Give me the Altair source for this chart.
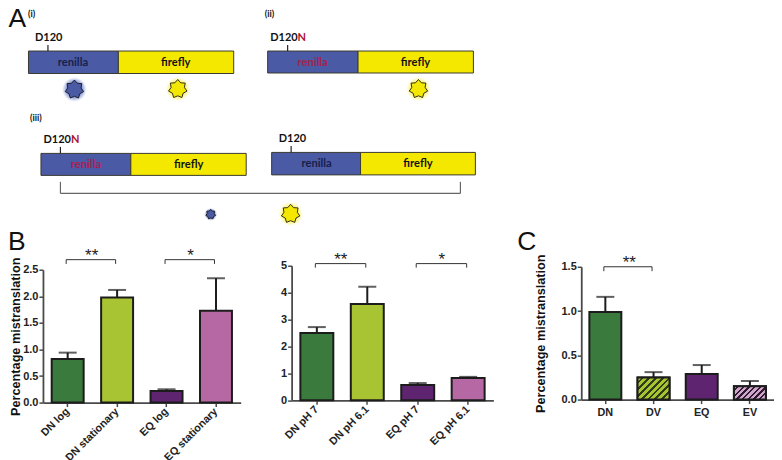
import math
import altair as alt

# ---------- panel A diagram values (diagram units) ----------
seg_x = [28.5, 118.5, 268, 358.5, 41, 131, 272, 361]
seg_x2 = [118.5, 234, 358.5, 474, 131, 246.5, 361, 476]
seg_y = [51, 51, 51, 51, 153.5, 153.5, 152.5, 152.5]
seg_y2 = [73.5, 73.5, 73, 73, 175.5, 175.5, 175, 175]
seg_kind = ["renilla", "firefly"] * 4

gene_x = [73, 176, 313, 416, 86, 189, 317, 418.5]
gene_y = [63, 63, 62.5, 62.5, 165, 165, 164, 164]
gene_t = ["renilla", "firefly"] * 4
gene_c = ["#17204a", "#111111", "#a3234f", "#111111", "#a3234f", "#111111", "#17204a", "#111111"]

mark_x = [48, 288, 60.5, 291.5]
mark_y = [45, 45, 147, 146]
mark_y2 = [51, 51, 153.5, 152.5]

site_x = [62.5, 298, 71, 306.5]
site_y = [38, 38, 140, 139]
site_t = ["D120", "D120", "D120", "D120"]
mut_x = [298, 71]
mut_y = [38, 140]

roman_x = [28, 265, 30]
roman_y = [14, 14, 118]
roman_t = ["(i)", "(ii)", "(iii)"]

blue_x = [74.5, 211]
blue_y = [89.5, 214.5]
blue_s = [19, 10]
yellow_x = [178, 419, 291]
yellow_y = [89, 89, 214]
yellow_s = [19, 19, 19]

# ---------- bar panels ----------
b1_cat = ["DN log", "DN stationary", "EQ log", "EQ stationary"]
b1_val = [0.82, 1.98, 0.22, 1.73]
b1_err = [0.94, 2.12, 0.25, 2.34]
b2_cat = ["DN pH 7", "DN pH 6.1", "EQ pH 7", "EQ pH 6.1"]
b2_val = [2.5, 3.58, 0.57, 0.83]
b2_err = [2.72, 4.22, 0.64, 0.87]
c_cat = ["DN", "DV", "EQ", "EV"]
c_val = [0.99, 0.25, 0.29, 0.15]
c_err = [1.16, 0.31, 0.39, 0.21]

GREEN, LIME, PURPLE, PINK = "#3a7a3c", "#a9c432", "#5f2470", "#b568a3"
DARK = "#1c1c1c"
AXC = "#4a4a4a"
ARIAL = "Liberation Sans"
CAL = "Lato"
PANEL_H = 137


def star_path(n=7, inner=0.72):
    pts = []
    for i in range(2 * n):
        r = 1 if i % 2 == 0 else inner
        a = math.pi * i / n - math.pi / 2
        pts.append(f"{r * math.cos(a):.3f},{r * math.sin(a):.3f}")
    return "M" + "L".join(pts) + "Z"


STAR = star_path()


def glow(rgb):
    return alt.RadialGradient(
        gradient="radial",
        stops=[
            alt.GradientStop(offset=0, color=f"rgba({rgb},0.9)"),
            alt.GradientStop(offset=0.6, color=f"rgba({rgb},0.85)"),
            alt.GradientStop(offset=1, color=f"rgba({rgb},0)"),
        ],
    )


# ---------- panel A ----------
def rows(**cols):
    keys = list(cols)
    return alt.Data(values=[dict(zip(keys, v)) for v in zip(*cols.values())])


X = alt.X("x:Q", axis=None, scale=alt.Scale(domain=[43, 774], nice=False, zero=False))
Y = alt.Y("y:Q", axis=None, scale=alt.Scale(domain=[225, 8], nice=False, zero=False))

segs = alt.Chart(rows(x=seg_x, x2=seg_x2, y=seg_y, y2=seg_y2, k=seg_kind)).mark_rect(
    stroke="#3a3a30", strokeWidth=1
).encode(
    x=X, x2="x2:Q", y=Y, y2="y2:Q",
    fill=alt.Fill("k:N", legend=None, scale=alt.Scale(domain=["renilla", "firefly"], range=["#4b5aa5", "#f5e800"])),
)
genes = alt.Chart(rows(x=gene_x, y=gene_y, t=gene_t, c=gene_c)).mark_text(
    font=CAL, fontWeight="bold", fontSize=11.2
).encode(x=X, y=Y, text="t:N", color=alt.Color("c:N", scale=None))
marks = alt.Chart(rows(x=mark_x, y=mark_y, y2=mark_y2)).mark_rule(color="#222222", strokeWidth=1.2).encode(
    x=X, y=Y, y2="y2:Q"
)
sites = alt.Chart(rows(x=site_x, y=site_y, t=site_t)).mark_text(
    font=CAL, fontWeight="bold", fontSize=11, align="right", color="#111111"
).encode(x=X, y=Y, text="t:N")
muts = alt.Chart(rows(x=mut_x, y=mut_y, t=["N", "N"])).mark_text(
    font=CAL, fontWeight="bold", fontSize=11, align="left", color="#b01030"
).encode(x=X, y=Y, text="t:N")
romans = alt.Chart(rows(x=roman_x, y=roman_y, t=roman_t)).mark_text(
    font=CAL, fontWeight="bold", fontSize=9, align="left", color="#111111"
).encode(x=X, y=Y, text="t:N")
letter_a = alt.Chart(rows(x=[8.5], y=[27], t=["A"])).mark_text(
    font=ARIAL, fontSize=26.5, align="left", baseline="alphabetic", color="#111111"
).encode(x=X, y=Y, text="t:N")
brack_h = alt.Chart(rows(x=[60.5], x2=[461], y=[193.5])).mark_rule(color="#666666", strokeWidth=1.2).encode(
    x=X, x2="x2:Q", y=Y
)
brack_v = alt.Chart(rows(x=[60.5, 461], y=[182, 182], y2=[193.5, 193.5])).mark_rule(
    color="#666666", strokeWidth=1.2
).encode(x=X, y=Y, y2="y2:Q")


def glow_layer(xs, ys, ss, rgb, fill):
    d = rows(x=xs, y=ys, s=ss)
    halo = alt.Chart(d).mark_point(filled=True, shape="circle", fill=glow(rgb), opacity=1, strokeWidth=0).encode(
        x=X, y=Y,
        size=alt.Size("area:Q", scale=None, legend=None),
    ).transform_calculate(area="3.14159*(datum.s*0.72)*(datum.s*0.72)")
    st = alt.Chart(d).mark_point(
        filled=True, shape=STAR, fill=fill, opacity=1, stroke="#1a1a1a", strokeWidth=0.9
    ).encode(x=X, y=Y, size=alt.Size("area:Q", scale=None, legend=None)).transform_calculate(
        area="datum.s*datum.s*1.0"
    )
    return halo + st


panel_a = alt.layer(
    segs, genes, marks, sites, muts, romans, letter_a, brack_h, brack_v,
    glow_layer(blue_x, blue_y, blue_s, "110,130,205", "#4b5aa5"),
    glow_layer(yellow_x, yellow_y, yellow_s, "250,240,90", "#f5e800"),
).properties(width=731, height=217)


# ---------- bar helper ----------
def bar_panel(cats, vals, errs, colors, domain, rng, ticks, fmt, width, bar_w,
              brackets, title=None, labelAngle=0, x_offset=0, letter=None, letter_x=0, hatch=None,
              title_pad=0):
    data = rows(c=cats, v=vals, e=errs)
    x = alt.X(
        "c:N", sort=cats, title=None,
        scale=alt.Scale(domain=cats, paddingInner=0, paddingOuter=0),
        axis=alt.Axis(
            labelAngle=labelAngle, labelFont=ARIAL, labelFontWeight="bold", labelFontSize=10.8,
            labelColor="#222222", domainColor=AXC, domainWidth=1.8, tickColor=AXC, tickWidth=1.5,
            tickSize=4, labelPadding=3, offset=x_offset, labelLimit=200,
            labelAlign="right" if labelAngle else "center",
            labelBaseline="middle" if labelAngle else "top",
        ),
    )
    y_scale = alt.Scale(domain=domain, range=rng, nice=False, zero=True)
    y_axis = alt.Axis(
        values=ticks, format=fmt, grid=False, labelFont=ARIAL, labelFontWeight="bold", labelFontSize=11,
        labelColor="#222222", domainColor=AXC, domainWidth=1.8, tickColor=AXC, tickWidth=1.5, tickSize=4,
        labelPadding=1, titleFont=ARIAL, titleFontWeight="bold", titleFontSize=12.7, titleColor="#111111",
        titlePadding=title_pad, labelOverlap=False,
    )

    def ya(field):
        return alt.Y(field, title=title, scale=y_scale, axis=y_axis)

    bars = alt.Chart(data).mark_bar(size=bar_w, stroke=DARK, strokeWidth=2).encode(
        x=x, y=ya("v:Q"),
        color=alt.Color("c:N", legend=None, scale=alt.Scale(domain=cats, range=colors)),
    )
    stem = alt.Chart(data).mark_rule(color=DARK, strokeWidth=2).encode(
        x=alt.X("c:N", sort=cats), y=ya("v:Q"), y2="e:Q"
    )
    cap = alt.Chart(data).mark_tick(color=DARK, thickness=2, size=18).encode(
        x=alt.X("c:N", sort=cats), y=ya("e:Q")
    )
    layers = [bars, stem, cap]
    if hatch:
        for cat, top, light, dark in hatch:
            h = abs(rng[0] - rng[1]) * vals[cats.index(cat)] / domain[1]
            r = h / bar_w
            k = (1 + r) / (1 + r * r)
            n = 8
            stops = []
            for i in range(n):
                stops += [
                    alt.GradientStop(offset=i / n, color=light),
                    alt.GradientStop(offset=(i + 0.6) / n, color=light),
                    alt.GradientStop(offset=(i + 0.6) / n, color=dark),
                    alt.GradientStop(offset=(i + 1) / n, color=dark),
                ]
            grad = alt.LinearGradient(gradient="linear", stops=stops, x1=0, y1=0, x2=k, y2=k * r)
            layers.append(
                alt.Chart(rows(c=[cat], v=[vals[cats.index(cat)]])).mark_bar(
                    size=bar_w, stroke=DARK, strokeWidth=2, fill=grad
                ).encode(x=alt.X("c:N", sort=cats), y=ya("v:Q"))
            )
    a_c, b_c, top, tip, star_y, star_t = zip(*brackets)
    bh = alt.Chart(rows(a=a_c, b=b_c, v=top)).mark_rule(color="#333333", strokeWidth=1, xOffset=-1.5, x2Offset=-1.5).encode(
        x=alt.X("a:N", sort=cats), x2="b:N", y=ya("v:Q")
    )
    ends = rows(a=list(a_c) + list(b_c), v=list(top) * 2, w=list(tip) * 2)
    bv = alt.Chart(ends).mark_rule(color="#333333", strokeWidth=1, xOffset=-1.5).encode(
        x=alt.X("a:N", sort=cats), y=ya("v:Q"), y2="w:Q"
    )
    st = alt.Chart(rows(a=a_c, b=b_c, v=star_y, t=star_t)).mark_text(
        font=ARIAL, fontSize=17, color="#222222", dx=24, baseline="middle"
    ).encode(x=alt.X("a:N", sort=cats), y=ya("v:Q"), text="t:N")
    layers += [bh, bv, st]
    if letter:
        layers.append(
            alt.Chart(alt.Data(values=[{"t": letter}])).mark_text(
                font=ARIAL, fontSize=26.5, align="left", baseline="alphabetic", color="#111111"
            ).encode(x=alt.value(letter_x), y=alt.value(-16), text="t:N")
        )
    return alt.layer(*layers).resolve_scale(color="independent").properties(width=width, height=PANEL_H)


b1 = bar_panel(
    b1_cat, b1_val, b1_err, [GREEN, LIME, PURPLE, PINK], [0, 2.5], [137, 4], [0, 0.5, 1, 1.5, 2, 2.5], ".1f",
    198, 32,
    [("DN log", "DN stationary", 2.69, 2.61, 2.755, "**"), ("EQ log", "EQ stationary", 2.69, 2.61, 2.755, "*")],
    title="Percentage  mistranslation", labelAngle=315, letter="B", letter_x=-35,
)
b2 = bar_panel(
    b2_cat, b2_val, b2_err, [GREEN, LIME, PURPLE, PINK], [0, 5], [134.7, 0], [0, 1, 2, 3, 4, 5], "d",
    202, 33,
    [("DN pH 7", "DN pH 6.1", 5.08, 4.93, 5.21, "**"), ("EQ pH 7", "EQ pH 6.1", 5.08, 4.93, 5.21, "*")],
    labelAngle=315, x_offset=-2.3,
)
c = bar_panel(
    c_cat, c_val, c_err, [GREEN, LIME, PURPLE, PINK], [0, 1.5], [134, 1], [0, 0.5, 1, 1.5], ".1f",
    193, 32,
    [("DN", "DV", 1.5, 1.45, 1.54, "**")],
    title="Percentage mistranslation", x_offset=-3, letter="C", letter_x=-64,
    hatch=[("DV", 0, LIME, "#2f3d14"), ("EV", 0, "#d2a6cc", "#2f1a30")], title_pad=14,
)

row = alt.hconcat(alt.hconcat(b1, b2, spacing=39), c, spacing=24)
chart = alt.vconcat(panel_a, row, spacing=2).properties(
    padding={"left": 0, "top": -2.2, "right": 0, "bottom": 0}
).configure_view(strokeWidth=0)
chart.save("out.html", embed_options={"renderer": "svg", "actions": False})
